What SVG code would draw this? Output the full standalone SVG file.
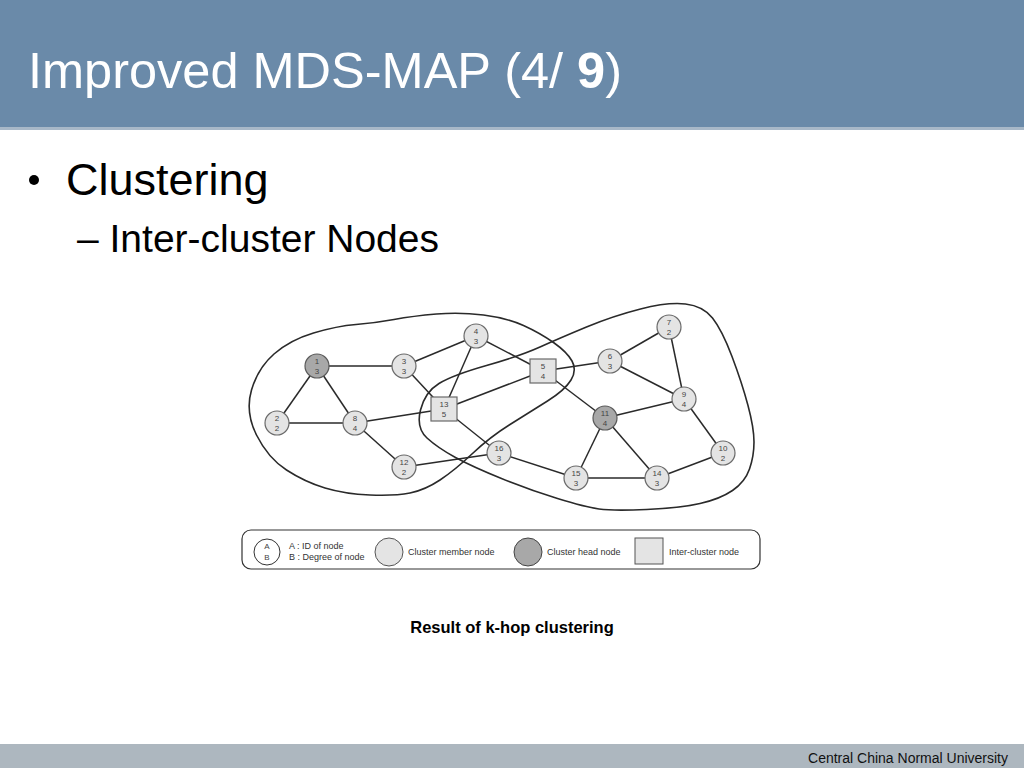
<svg xmlns="http://www.w3.org/2000/svg" width="1024" height="768" viewBox="0 0 1024 768">
<style>
.edge{stroke:#2a2a2a;stroke-width:1.5;fill:none}
.clu{stroke:#2a2a2a;stroke-width:1.6;fill:none}
.mem{fill:#e4e4e4;stroke:#6a6a6a;stroke-width:1.2}
.head{fill:#a8a8a8;stroke:#5a5a5a;stroke-width:1.2}
.inter{fill:#e4e4e4;stroke:#6a6a6a;stroke-width:1.2}
.nt{font-family:"Liberation Sans",Arial,sans-serif;font-size:8px;fill:#444;text-anchor:middle}
.lt{font-family:"Liberation Sans",Arial,sans-serif;font-size:9px;fill:#333}
.tt{font-family:"Liberation Sans",Arial,sans-serif;font-size:50.5px;fill:#ffffff}
</style>
<rect x="0" y="0" width="1024" height="768" fill="#ffffff"/>
<rect x="0" y="0" width="1024" height="130" fill="#a8b8c8"/>
<rect x="0" y="0" width="1024" height="127" fill="#6a8aa9"/>
<rect x="0" y="744" width="1024" height="24" fill="#adb7bf"/>
<text class="tt" x="28" y="88">Improved MDS-MAP (4/ <tspan font-weight="bold">9</tspan>)</text>
<circle cx="34" cy="180" r="5" fill="#000"/>
<text x="66" y="195" font-family="Liberation Sans,Arial,sans-serif" font-size="45" fill="#000">Clustering</text>
<text x="77" y="252" font-family="Liberation Sans,Arial,sans-serif" font-size="39" fill="#000">– Inter-cluster Nodes</text>
<text x="512" y="633" font-family="Liberation Sans,Arial,sans-serif" font-size="16.5" font-weight="bold" fill="#000" text-anchor="middle">Result of k-hop clustering</text>
<text x="1008" y="763" font-family="Liberation Sans,Arial,sans-serif" font-size="14" fill="#111" text-anchor="end">Central China Normal University</text>

<g id="clusters">
<path class="clu" d="M256.5,435 Q245,412 251.5,390 Q258,368 274,354 Q290,340 313.5,333 Q337,326 356,324.5 Q375,323 394,319.5 Q413,316 436.5,314 Q460,312 483.5,315 Q507,318 523.5,325.5 Q540,333 553.5,342.5 Q567,352 572,361 Q577,370 571,380 Q565,390 547.5,401 Q530,412 510,424.5 Q490,437 472.5,453.5 Q455,470 440,480 Q425,490 410,493 Q395,496 370,495 Q345,494 325,488 Q305,482 286.5,470 Q268,458 256.5,435 Z"/>
<path class="clu" d="M427,438 Q416,428 420.5,410 Q425,392 439,383.5 Q453,375 486.5,365.5 Q520,356 540,347 Q560,338 586.5,327 Q613,316 640.5,309 Q668,302 685.5,304 Q703,306 712.5,318 Q722,330 732,356.5 Q742,383 748,405.5 Q754,428 754,442 Q754,456 749.5,469 Q745,482 732.5,490.5 Q720,499 700,503.5 Q680,508 646.5,509.5 Q613,511 599,509 Q585,507 557.5,498.5 Q530,490 501.5,478.5 Q473,467 455.5,457.5 Q438,448 427,438 Z"/>
</g>

<g id="connectors">
<line class="edge" x1="317" y1="366" x2="404" y2="366"/>
<line class="edge" x1="317" y1="366" x2="277" y2="423"/>
<line class="edge" x1="317" y1="366" x2="355" y2="423"/>
<line class="edge" x1="277" y1="423" x2="355" y2="423"/>
<line class="edge" x1="355" y1="423" x2="444" y2="409"/>
<line class="edge" x1="355" y1="423" x2="404" y2="467"/>
<line class="edge" x1="404" y1="366" x2="476" y2="336"/>
<line class="edge" x1="404" y1="366" x2="444" y2="409"/>
<line class="edge" x1="476" y1="336" x2="444" y2="409"/>
<line class="edge" x1="476" y1="336" x2="543" y2="371"/>
<line class="edge" x1="444" y1="409" x2="543" y2="371"/>
<line class="edge" x1="444" y1="409" x2="499" y2="453"/>
<line class="edge" x1="404" y1="467" x2="499" y2="453"/>
<line class="edge" x1="499" y1="453" x2="576" y2="478"/>
<line class="edge" x1="543" y1="371" x2="610" y2="361"/>
<line class="edge" x1="543" y1="371" x2="605" y2="418"/>
<line class="edge" x1="610" y1="361" x2="669" y2="327"/>
<line class="edge" x1="610" y1="361" x2="684" y2="399"/>
<line class="edge" x1="669" y1="327" x2="684" y2="399"/>
<line class="edge" x1="684" y1="399" x2="605" y2="418"/>
<line class="edge" x1="684" y1="399" x2="723" y2="453"/>
<line class="edge" x1="723" y1="453" x2="657" y2="478"/>
<line class="edge" x1="605" y1="418" x2="576" y2="478"/>
<line class="edge" x1="605" y1="418" x2="657" y2="478"/>
<line class="edge" x1="576" y1="478" x2="657" y2="478"/>
</g>

<g id="n1"><circle class="head" cx="317" cy="366" r="12"/><text class="nt" x="317" y="363.5">1</text><text class="nt" x="317" y="373.5">3</text></g>
<g id="n2"><circle class="mem" cx="277" cy="423" r="12"/><text class="nt" x="277" y="420.5">2</text><text class="nt" x="277" y="430.5">2</text></g>
<g id="n3"><circle class="mem" cx="404" cy="366" r="12"/><text class="nt" x="404" y="363.5">3</text><text class="nt" x="404" y="373.5">3</text></g>
<g id="n4"><circle class="mem" cx="476" cy="336" r="12"/><text class="nt" x="476" y="333.5">4</text><text class="nt" x="476" y="343.5">3</text></g>
<g id="n8"><circle class="mem" cx="355" cy="423" r="12"/><text class="nt" x="355" y="420.5">8</text><text class="nt" x="355" y="430.5">4</text></g>
<g id="n12"><circle class="mem" cx="404" cy="467" r="12"/><text class="nt" x="404" y="464.5">12</text><text class="nt" x="404" y="474.5">2</text></g>
<g id="n13"><rect class="inter" x="431" y="397" width="26" height="24"/><text class="nt" x="444" y="406.5">13</text><text class="nt" x="444" y="416.5">5</text></g>
<g id="n16"><circle class="mem" cx="499" cy="453" r="12"/><text class="nt" x="499" y="450.5">16</text><text class="nt" x="499" y="460.5">3</text></g>
<g id="n5"><rect class="inter" x="530" y="359" width="26" height="24"/><text class="nt" x="543" y="368.5">5</text><text class="nt" x="543" y="378.5">4</text></g>
<g id="n6"><circle class="mem" cx="610" cy="361" r="12"/><text class="nt" x="610" y="358.5">6</text><text class="nt" x="610" y="368.5">3</text></g>
<g id="n7"><circle class="mem" cx="669" cy="327" r="12"/><text class="nt" x="669" y="324.5">7</text><text class="nt" x="669" y="334.5">2</text></g>
<g id="n9"><circle class="mem" cx="684" cy="399" r="12"/><text class="nt" x="684" y="396.5">9</text><text class="nt" x="684" y="406.5">4</text></g>
<g id="n11"><circle class="head" cx="605" cy="418" r="12"/><text class="nt" x="605" y="415.5">11</text><text class="nt" x="605" y="425.5">4</text></g>
<g id="n10"><circle class="mem" cx="723" cy="453" r="12"/><text class="nt" x="723" y="450.5">10</text><text class="nt" x="723" y="460.5">2</text></g>
<g id="n15"><circle class="mem" cx="576" cy="478" r="12"/><text class="nt" x="576" y="475.5">15</text><text class="nt" x="576" y="485.5">3</text></g>
<g id="n14"><circle class="mem" cx="657" cy="478" r="12"/><text class="nt" x="657" y="475.5">14</text><text class="nt" x="657" y="485.5">3</text></g>

<g id="legend">
<rect x="242" y="530" width="518" height="39" rx="9" fill="none" stroke="#333" stroke-width="1.2"/>
<circle cx="267" cy="552" r="13" fill="#fff" stroke="#333" stroke-width="1"/>
<text class="nt" x="267" y="549">A</text><text class="nt" x="267" y="560">B</text>
<text class="lt" x="289" y="549">A : ID of node</text>
<text class="lt" x="289" y="560">B : Degree of node</text>
<circle cx="389" cy="552" r="14" fill="#e4e4e4" stroke="#555" stroke-width="1"/>
<text class="lt" x="408" y="555">Cluster member node</text>
<circle cx="528" cy="552" r="14" fill="#a8a8a8" stroke="#444" stroke-width="1"/>
<text class="lt" x="547" y="555">Cluster head node</text>
<rect x="635" y="538" width="28" height="26" fill="#e4e4e4" stroke="#555" stroke-width="1"/>
<text class="lt" x="669" y="555">Inter-cluster node</text>
</g>
</svg>
